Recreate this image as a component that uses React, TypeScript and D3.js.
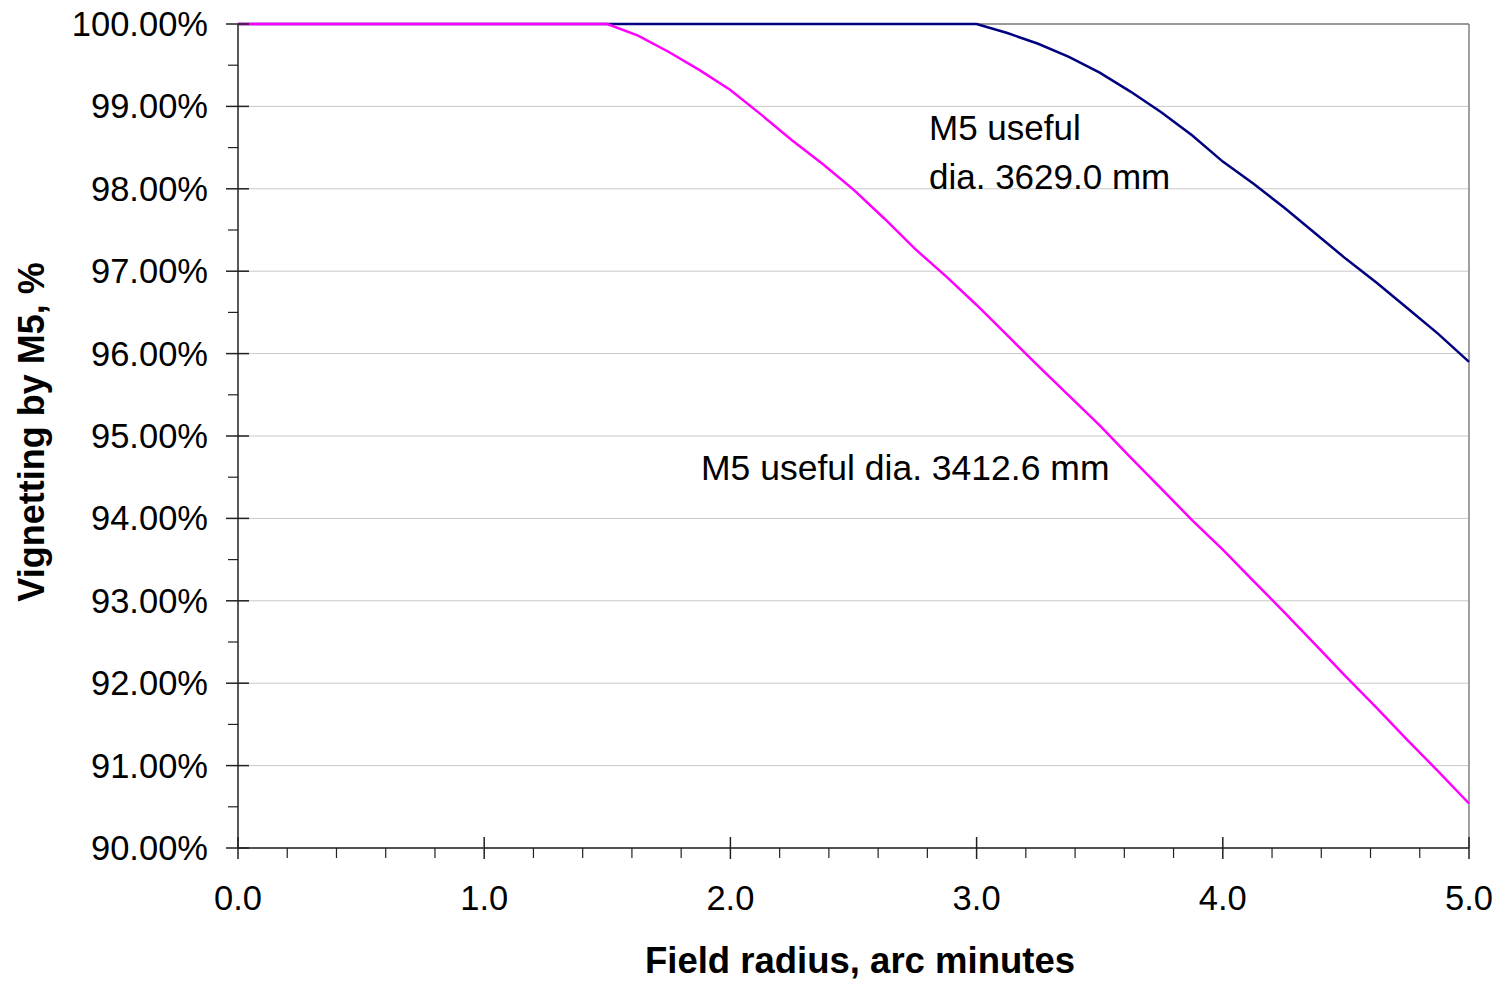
import React from "react";
import * as d3 from "d3";

const xValues = [0, 0.125, 0.25, 0.375, 0.5, 0.625, 0.75, 0.875, 1.0, 1.125, 1.25, 1.375, 1.5, 1.625, 1.75, 1.875, 2.0, 2.125, 2.25, 2.375, 2.5, 2.625, 2.75, 2.875, 3.0, 3.125, 3.25, 3.375, 3.5, 3.625, 3.75, 3.875, 4.0, 4.125, 4.25, 4.375, 4.5, 4.625, 4.75, 4.875, 5.0];

const seriesNavy = [100, 100, 100, 100, 100, 100, 100, 100, 100, 100, 100, 100, 100, 100, 100, 100, 100, 100, 100, 100, 100, 100, 100, 100, 100, 99.89, 99.76, 99.6, 99.41, 99.18, 98.93, 98.65, 98.33, 98.06, 97.77, 97.46, 97.15, 96.86, 96.55, 96.24, 95.9];

const seriesMagenta = [100, 100, 100, 100, 100, 100, 100, 100, 100, 100, 100, 100, 100, 99.86, 99.66, 99.44, 99.2, 98.9, 98.59, 98.3, 97.99, 97.64, 97.27, 96.94, 96.59, 96.22, 95.85, 95.49, 95.13, 94.74, 94.36, 93.98, 93.62, 93.24, 92.86, 92.47, 92.08, 91.7, 91.31, 90.93, 90.54];

const yTicks = [90, 91, 92, 93, 94, 95, 96, 97, 98, 99, 100];
const yMinorTicks = [90.5, 91.5, 92.5, 93.5, 94.5, 95.5, 96.5, 97.5, 98.5, 99.5];
const xTicks = [0, 1, 2, 3, 4, 5];
const xMinorTicks = [0.2, 0.4, 0.6, 0.8, 1.2, 1.4, 1.6, 1.8, 2.2, 2.4, 2.6, 2.8, 3.2, 3.4, 3.6, 3.8, 4.2, 4.4, 4.6, 4.8];

const xTitle = "Field radius, arc minutes";
const yTitle = "Vignetting by M5, %";
const labelNavy = ["M5 useful", "dia. 3629.0 mm"];
const labelMagenta = "M5 useful dia. 3412.6 mm";

export default function App() {
  const W = 1504, H = 983;
  const left = 238, right = 1469, top = 24, bottom = 848;
  const x = d3.scaleLinear().domain([0, 5]).range([left, right]);
  const y = d3.scaleLinear().domain([90, 100]).range([bottom, top]);
  const font = "'Liberation Sans', Arial, sans-serif";
  const fs = 34.5;

  const line = d3
    .line<number>()
    .x((_, i) => x(xValues[i]))
    .y((d) => y(d));

  return (
    <svg
      width={W}
      height={H}
      style={{ position: "absolute", left: 0, top: 0, background: "#fff" }}
      fontFamily={font}
    >
      <rect x={0} y={0} width={W} height={H} fill="#fff" />
      {yTicks.map((t) => (
        <line key={"g" + t} x1={left} x2={right} y1={y(t)} y2={y(t)} stroke="#c8c8c8" strokeWidth={1} />
      ))}
      <line x1={left} x2={right} y1={top} y2={top} stroke="#808080" strokeWidth={1.5} />
      <line x1={right} x2={right} y1={top} y2={bottom} stroke="#808080" strokeWidth={1.5} />
      <path d={line(seriesNavy) || ""} fill="none" stroke="#000080" strokeWidth={2.5} />
      <path d={line(seriesMagenta) || ""} fill="none" stroke="#ff00ff" strokeWidth={2.5} />
      <line x1={left} x2={left} y1={top} y2={bottom} stroke="#222" strokeWidth={1.5} />
      <line x1={left} x2={right} y1={bottom} y2={bottom} stroke="#222" strokeWidth={1.5} />
      {yTicks.map((t) => (
        <line key={"yt" + t} x1={left - 12} x2={left + 11} y1={y(t)} y2={y(t)} stroke="#222" strokeWidth={1.5} />
      ))}
      {yMinorTicks.map((t) => (
        <line key={"ym" + t} x1={left - 10} x2={left} y1={y(t)} y2={y(t)} stroke="#222" strokeWidth={1.2} />
      ))}
      {xTicks.map((t) => (
        <line key={"xt" + t} x1={x(t)} x2={x(t)} y1={bottom - 11} y2={bottom + 11} stroke="#222" strokeWidth={1.5} />
      ))}
      {xMinorTicks.map((t) => (
        <line key={"xm" + t} x1={x(t)} x2={x(t)} y1={bottom} y2={bottom + 10} stroke="#222" strokeWidth={1.2} />
      ))}
      {yTicks.map((t) => (
        <text key={"yl" + t} x={208} y={y(t) + 12} textAnchor="end" fontSize={fs} fill="#000">
          {t.toFixed(2) + "%"}
        </text>
      ))}
      {xTicks.map((t) => (
        <text key={"xl" + t} x={x(t)} y={910} textAnchor="middle" fontSize={fs} fill="#000">
          {t.toFixed(1)}
        </text>
      ))}
      <text x={860} y={973} textAnchor="middle" fontSize={36.5} fontWeight="bold" fill="#000">
        {xTitle}
      </text>
      <text
        transform={`translate(44,432) rotate(-90)`}
        textAnchor="middle"
        fontSize={36}
        fontWeight="bold"
        fill="#000"
      >
        {yTitle}
      </text>
      <text x={929} y={140} fontSize={35} fill="#000">{labelNavy[0]}</text>
      <text x={929} y={189} fontSize={35} fill="#000">{labelNavy[1]}</text>
      <text x={701} y={480} fontSize={35.5} fill="#000">{labelMagenta}</text>
    </svg>
  );
}
